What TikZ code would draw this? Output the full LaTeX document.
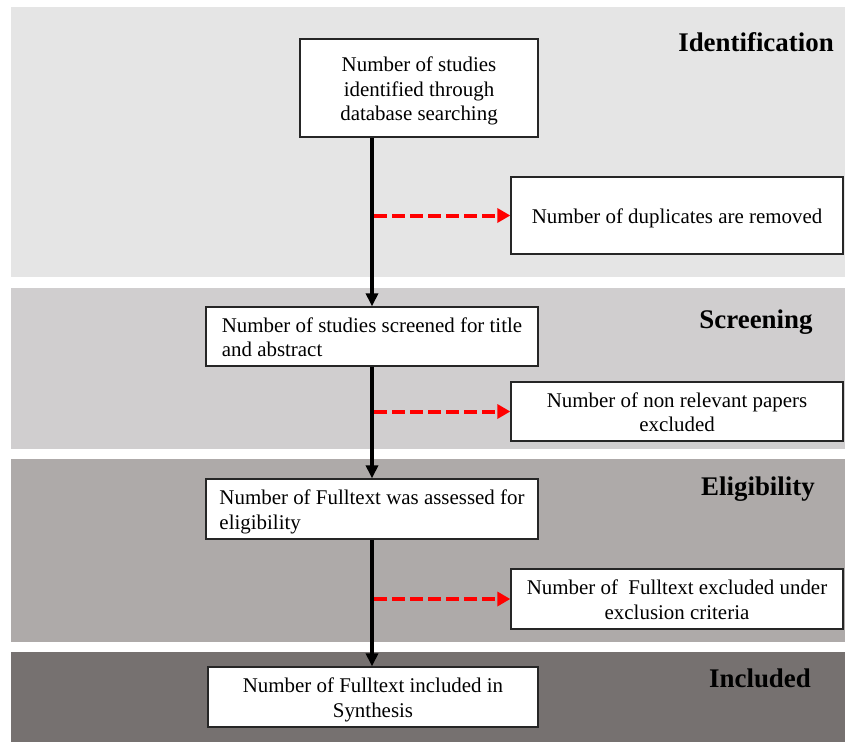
\documentclass[tikz,border=0pt]{standalone}
\usepackage{fontspec}
\setmainfont{Liberation Serif}
\usetikzlibrary{arrows.meta}
\definecolor{bandA}{HTML}{E5E5E5}
\definecolor{bandB}{HTML}{D0CECF}
\definecolor{bandC}{HTML}{AEAAA9}
\definecolor{bandD}{HTML}{767170}
\definecolor{flowred}{HTML}{FF0000}
% box text: lines 25bp apart, a little extra room above the first line
\newcommand\boxlines[2]{\begin{tabular}{@{}#1@{}}\rule{0pt}{23.5bp}#2\end{tabular}}
\begin{document}
\begin{tikzpicture}[x=1bp,y=-1bp,
  phase/.style={font=\fontsize{27}{30}\selectfont\bfseries, anchor=base},
  stepbox/.style={draw=black!85, line width=1.3bp, fill=white, inner sep=0pt,
    font=\fontsize{21}{25}\selectfont},
  flow/.style={line width=4bp, -{Triangle[length=13bp,width=12bp]}},
  skip/.style={draw=flowred, line width=4bp, dash pattern=on 12.5bp off 5.5bp,
    -{Triangle[length=13bp,width=14bp,fill=flowred]}}]
\useasboundingbox (0,0) rectangle (845,742);
\fill[white] (0,0) rectangle (845,742);

% phase bands
\fill[bandA] (11,7) rectangle (845,277);
\fill[bandB] (11,288) rectangle (845,449);
\fill[bandC] (11,459) rectangle (845,642);
\fill[bandD] (11,652) rectangle (845,742);

% phase titles
\node[phase] (tid) at (756,52) {Identification};
\node[phase] (tsc) at (756,328) {Screening};
\node[phase] (tel) at (758,495) {Eligibility};
\node[phase] (tin) at (760,687) {Included};

% main steps
\node[stepbox, minimum width=238bp, minimum height=98bp]
  (ident) at (419,88) {\boxlines{c}{Number of studies\\identified through\\database searching}};
\node[stepbox, minimum width=332bp, minimum height=59bp]
  (screen) at (372,336.5) {\boxlines{l}{Number of studies screened for title\\and abstract}};
\node[stepbox, minimum width=332bp, minimum height=60bp]
  (elig) at (372,509) {\boxlines{l}{Number of Fulltext was assessed for\\eligibility}};
\node[stepbox, minimum width=330bp, minimum height=60bp]
  (incl) at (373,697) {\boxlines{c}{Number of Fulltext included in\\Synthesis}};

% exclusions
\node[stepbox, minimum width=332bp, minimum height=77bp]
  (dup) at (677,215.5) {\boxlines{c}{Number of duplicates are removed}};
\node[stepbox, minimum width=332bp, minimum height=59bp]
  (nonrel) at (677,411.5) {\boxlines{c}{Number of non relevant papers\\excluded}};
\node[stepbox, minimum width=332bp, minimum height=60bp]
  (excl) at (677,599) {\boxlines{c}{Number of\ \ Fulltext excluded under\\exclusion criteria}};

% vertical flow line
\coordinate (spine) at (372,0);
\coordinate (spineR) at (374,0);
\draw[flow] (ident.south -| spine) -- (screen.north -| spine);
\draw[flow] (screen.south -| spine) -- (elig.north -| spine);
\draw[flow] (elig.south -| spine) -- (incl.north -| spine);

% exclusion arrows
\draw[skip] (dup.west -| spineR) -- (dup.west);
\draw[skip] (nonrel.west -| spineR) -- (nonrel.west);
\draw[skip] (excl.west -| spineR) -- (excl.west);
\end{tikzpicture}
\end{document}
